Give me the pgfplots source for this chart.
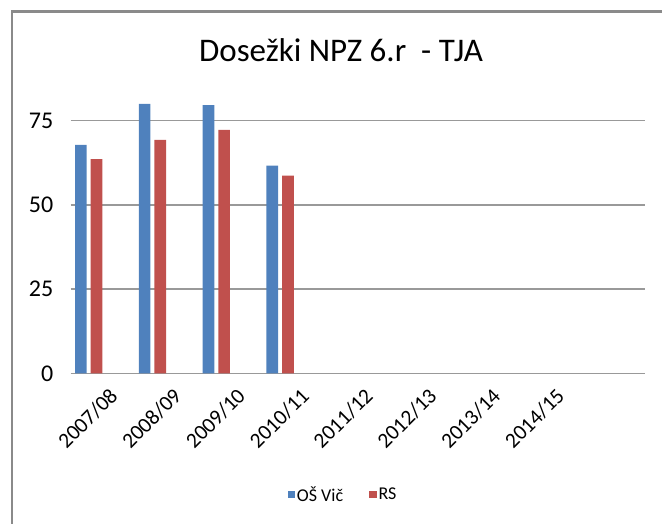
\documentclass[border=0pt]{standalone}
\usepackage{fontspec}
\setmainfont{Carlito}
\usepackage{pgfplots}
\pgfplotsset{compat=1.18}

\definecolor{exblue}{HTML}{4F81BD}
\definecolor{exred}{HTML}{C0504D}
\definecolor{gridgray}{HTML}{999999}
\definecolor{framegray}{HTML}{8A8A8A}

\pgfplotsset{
  sqlegend/.style={legend image code/.code={\fill[##1,draw=none] (0pt,-3.7pt) rectangle (7.4pt,3.7pt);}},
}

\begin{document}
\begin{tikzpicture}[x=1pt,y=1pt]
\useasboundingbox (0,0) rectangle (662,524);
% chart frame, cut off at the right and bottom like in the screenshot
\begin{scope}
  \clip (0,0) rectangle (662,524);
  \draw[framegray,line width=2.2pt] (12,-20) -- (12,512.5) -- (700,512.5);
\end{scope}
\node[font=\fontsize{33}{38}\selectfont,anchor=base] at (341,524-61.7) {Dosežki NPZ 6.r\ \ - TJA};

\begin{axis}[
  at={(70.7pt,150.7pt)}, anchor=south west,
  scale only axis,
  width=574.3pt, height=272.8pt,
  xmin=-0.5, xmax=8.5,
  ymin=0, ymax=81,
  ytick={0,25,50,75},
  xtick={0,...,8},
  xticklabels={2007/08,2008/09,2009/10,2010/11,2011/12,2012/13,2013/14,2014/15,{}},
  major tick length=0pt,
  axis line style={draw=none},
  ymajorgrids,
  grid style={gridgray,line width=1.4pt},
  /pgf/number format/assume math mode=true,
  yticklabel style={font=\fontsize{24}{28}\selectfont,anchor=east,xshift=-14pt},
  xticklabel style={font=\fontsize{21.5}{25}\selectfont,rotate=45,anchor=north east,xshift=-2pt,yshift=-10pt},
  legend style={draw=none,at={(272.3pt,-121.2pt)},anchor=center,
    legend columns=2,font=\fontsize{18}{22}\selectfont,
    nodes={inner sep=2pt},
    /tikz/every even column/.append style={column sep=24pt}},
]
\addplot[ybar,bar width=0.183,bar shift=-0.341,fill=exblue,draw=none,sqlegend]
  coordinates {(0,67.8) (1,80.0) (2,79.6) (3,61.7)};
\addplot[ybar,bar width=0.183,bar shift=-0.096,fill=exred,draw=none,sqlegend]
  coordinates {(0,63.6) (1,69.3) (2,72.3) (3,58.7)};
\legend{OŠ Vič,RS}
\end{axis}
\end{tikzpicture}
\end{document}
